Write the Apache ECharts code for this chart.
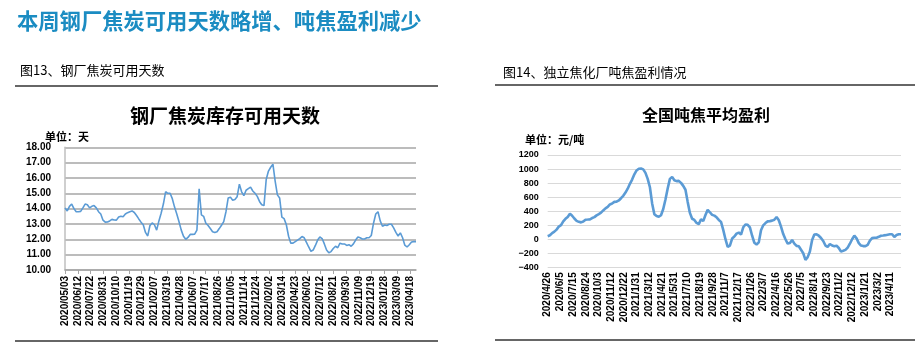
<!DOCTYPE html>
<html><head><meta charset="utf-8">
<script src="https://cdn.jsdelivr.net/npm/echarts@6/dist/echarts.min.js"></script>
<style>html,body{margin:0;padding:0;background:#fff}#c{width:915px;height:342px}</style>
</head><body><div id="c"></div>
<script>
// ---- data ----
const leftStart = '2020/05/03';
const leftTickLabels = ['2020/05/03','2020/06/12','2020/07/22','2020/08/31','2020/10/10','2020/11/19','2020/12/29','2021/02/07','2021/03/19','2021/04/28','2021/06/07','2021/07/17','2021/08/26','2021/10/05','2021/11/14','2021/12/24','2022/02/02','2022/03/14','2022/04/23','2022/06/02','2022/07/12','2022/08/21','2022/09/30','2022/11/09','2022/12/19','2023/01/28','2023/03/09','2023/04/18'];
const leftValues = [14.05,13.85,14.15,14.3,14.0,13.8,13.8,13.82,14.05,14.3,
14.25,14.05,14.15,14.2,14.05,13.8,13.65,13.25,13.12,13.13,
13.2,13.3,13.26,13.25,13.45,13.5,13.47,13.65,13.74,13.8,
13.85,13.75,13.55,13.33,13.12,12.95,12.45,12.22,12.9,13.07,
12.95,12.6,13.2,13.7,14.3,15.1,15.0,15.0,14.65,14.1,
13.65,13.15,12.6,12.2,12.0,12.12,12.32,12.32,12.34,12.6,
15.3,13.6,13.5,13.05,12.9,12.7,12.5,12.45,12.5,12.7,
12.92,13.15,13.8,14.7,14.75,14.55,14.6,14.78,15.6,15.1,
14.85,15.2,15.3,15.4,15.15,15.0,14.8,14.47,14.25,14.2,
15.9,16.45,16.7,16.9,15.8,14.9,14.7,13.45,13.35,12.95,
12.2,11.75,11.75,11.85,11.95,12.05,12.18,12.1,11.8,11.5,
11.22,11.3,11.6,11.95,12.15,12.05,11.7,11.3,11.12,11.2,
11.4,11.55,11.45,11.75,11.7,11.7,11.6,11.65,11.55,11.7,
11.95,12.15,12.1,12.02,12.02,12.1,12.1,12.25,13.05,13.65,
13.8,13.2,12.85,12.93,12.9,12.98,12.98,12.75,12.45,12.22,
12.42,12.1,11.62,11.5,11.65,11.82,11.85,11.85];

const rightStart = '2020/4/26';
const rightTickLabels = ['2020/4/26','2020/6/5','2020/7/15','2020/8/24','2020/10/3','2020/11/12','2020/12/22','2021/1/31','2021/3/12','2021/4/21','2021/5/31','2021/7/10','2021/8/19','2021/9/28','2021/11/7','2021/12/17','2022/1/26','2022/3/7','2022/4/16','2022/5/26','2022/7/5','2022/8/14','2022/9/23','2022/11/2','2022/12/12','2023/1/21','2023/3/2','2023/4/11'];
const rightValues = [43,56,87,108,137,180,200,255,291,318,
364,334,295,262,248,240,252,278,280,283,
302,315,340,358,378,410,440,461,496,508,
532,534,552,584,619,665,720,790,850,925,
980,1004,1007,995,945,860,740,510,356,330,
320,342,430,565,722,860,888,841,828,831,
803,760,705,532,375,292,275,232,215,285,
258,345,418,384,347,336,312,275,247,133,
0,-109,-90,10,38,80,95,66,170,210,
205,168,50,-50,-75,-45,128,198,230,254,
258,265,277,316,270,180,74,0,-62,-55,
-10,-62,-95,-100,-150,-200,-295,-255,-175,-10,
67,70,50,18,-25,-90,-109,-68,-90,-100,
-92,-125,-176,-165,-152,-119,-64,0,52,12,
-55,-90,-98,-98,-80,-20,16,22,22,34,
50,53,58,64,70,71,33,60,71,71];

const mainTitle = '本周钢厂焦炭可用天数略增、吨焦盈利减少';
const leftCaption = '图13、钢厂焦炭可用天数';
const rightCaption = '图14、独立焦化厂吨焦盈利情况';
const leftChartTitle = '钢厂焦炭库存可用天数';
const rightChartTitle = '全国吨焦平均盈利';
const leftUnit = '单位：天';
const rightUnit = '单位：元/吨';

// ---- helpers ----
function dayNum(s){const p=s.split('/').map(Number);return Date.UTC(p[0],p[1]-1,p[2])/86400000;}
function weekly(start, vals){return vals.map((v,i)=>[i*7, v]);}
function tickMap(start, labels){const d0=dayNum(start);const m={};const vals=[];labels.forEach(l=>{const k=dayNum(l)-d0;m[k]=l;vals.push(k);});return {m,vals};}

const lt = tickMap(leftStart, leftTickLabels);
const rt = tickMap(rightStart, rightTickLabels);
const leftData = weekly(leftStart, leftValues);
const rightData = weekly(rightStart, rightValues);

const FONT = 'Arial, "Liberation Sans", "Noto Sans CJK SC", sans-serif';
const CJK = '"Noto Sans CJK SC", sans-serif';

const chart = echarts.init(document.getElementById('c'), null, {renderer:'canvas'});
chart.setOption({
  animation:false,
  textStyle:{fontFamily:FONT},
  grid:[
    {left:65, top:147.3, width:351, height:122.7},
    {left:547.7, top:155, width:353.3, height:112.3}
  ],
  xAxis:[
    {gridIndex:0, type:'value', min:0, max:leftData[leftData.length-1][0], interval:40,
     axisLine:{show:true, lineStyle:{color:'#a6a6a6', width:1.5}},
     axisTick:{show:true, length:4, lineStyle:{color:'#a6a6a6'}, customValues:lt.vals},
     axisLabel:{rotate:90, margin:6, fontSize:10, fontWeight:'bold', color:'#000', fontFamily:FONT,
       customValues:lt.vals, formatter:v=>lt.m[v]||''},
     splitLine:{show:false}},
    {gridIndex:1, type:'value', min:0, max:rightData[rightData.length-1][0], interval:40,
     axisLine:{show:false},
     axisTick:{show:false},
     axisLabel:{rotate:90, margin:5, fontSize:10, fontWeight:'bold', color:'#000', fontFamily:FONT,
       customValues:rt.vals, formatter:v=>rt.m[v]||''},
     splitLine:{show:false}}
  ],
  yAxis:[
    {gridIndex:0, type:'value', min:10, max:18, interval:1,
     axisLine:{show:true, lineStyle:{color:'#bfbfbf', width:1.5}},
     axisTick:{show:false},
     axisLabel:{margin:14, fontSize:10, fontWeight:'bold', color:'#000', formatter:v=>v.toFixed(2)},
     splitLine:{show:true, lineStyle:{color:'#a6a6a6', width:1.5}}},
    {gridIndex:1, type:'value', min:-400, max:1200, interval:200,
     axisLine:{show:false}, axisTick:{show:false},
     axisLabel:{margin:9, fontSize:9, fontWeight:'bold', color:'#000', formatter:v=>v<0?('\u2212'+Math.abs(v)):String(v)},
     splitLine:{show:true, lineStyle:{color:'#d9d9d9', width:1}}}
  ],
  series:[
    {type:'line', xAxisIndex:0, yAxisIndex:0, data:leftData, showSymbol:false, lineStyle:{color:'#5b9bd5', width:1.6}, itemStyle:{color:'#5b9bd5'}},
    {type:'line', xAxisIndex:1, yAxisIndex:1, data:rightData, showSymbol:false, lineStyle:{color:'#5b9bd5', width:2.6}, itemStyle:{color:'#5b9bd5'}}
  ],
  graphic:[
    {type:'text', left:17, top:10, style:{text:mainTitle, fill:'#1b8cc2', font:'bold 21.3px '+CJK}},
    {type:'text', left:20, top:64, style:{text:leftCaption, fill:'#000', font:'13px '+CJK}},
    {type:'text', left:503, top:66, style:{text:rightCaption, fill:'#000', font:'13px '+CJK}},
    {type:'line', shape:{x1:15,y1:86,x2:438,y2:86}, style:{stroke:'#333', lineWidth:1.5}},
    {type:'line', shape:{x1:495,y1:85,x2:915,y2:85}, style:{stroke:'#333', lineWidth:1.5}},
    {type:'line', shape:{x1:15,y1:341,x2:438,y2:341}, style:{stroke:'#333', lineWidth:1.5}},
    {type:'line', shape:{x1:495,y1:340,x2:915,y2:340}, style:{stroke:'#333', lineWidth:1.5}},
    {type:'text', x:225, y:116, style:{text:leftChartTitle, fill:'#000', font:'bold 19px '+CJK, textAlign:'center', textVerticalAlign:'middle'}},
    {type:'text', x:706, y:115, style:{text:rightChartTitle, fill:'#000', font:'bold 16px '+CJK, textAlign:'center', textVerticalAlign:'middle'}},
    {type:'text', x:45, y:137, style:{text:leftUnit, fill:'#000', font:'bold 11px '+CJK, textVerticalAlign:'middle'}},
    {type:'text', x:525, y:140, style:{text:rightUnit, fill:'#000', font:'bold 11px '+CJK, textVerticalAlign:'middle'}}
  ]
});
</script></body></html>
